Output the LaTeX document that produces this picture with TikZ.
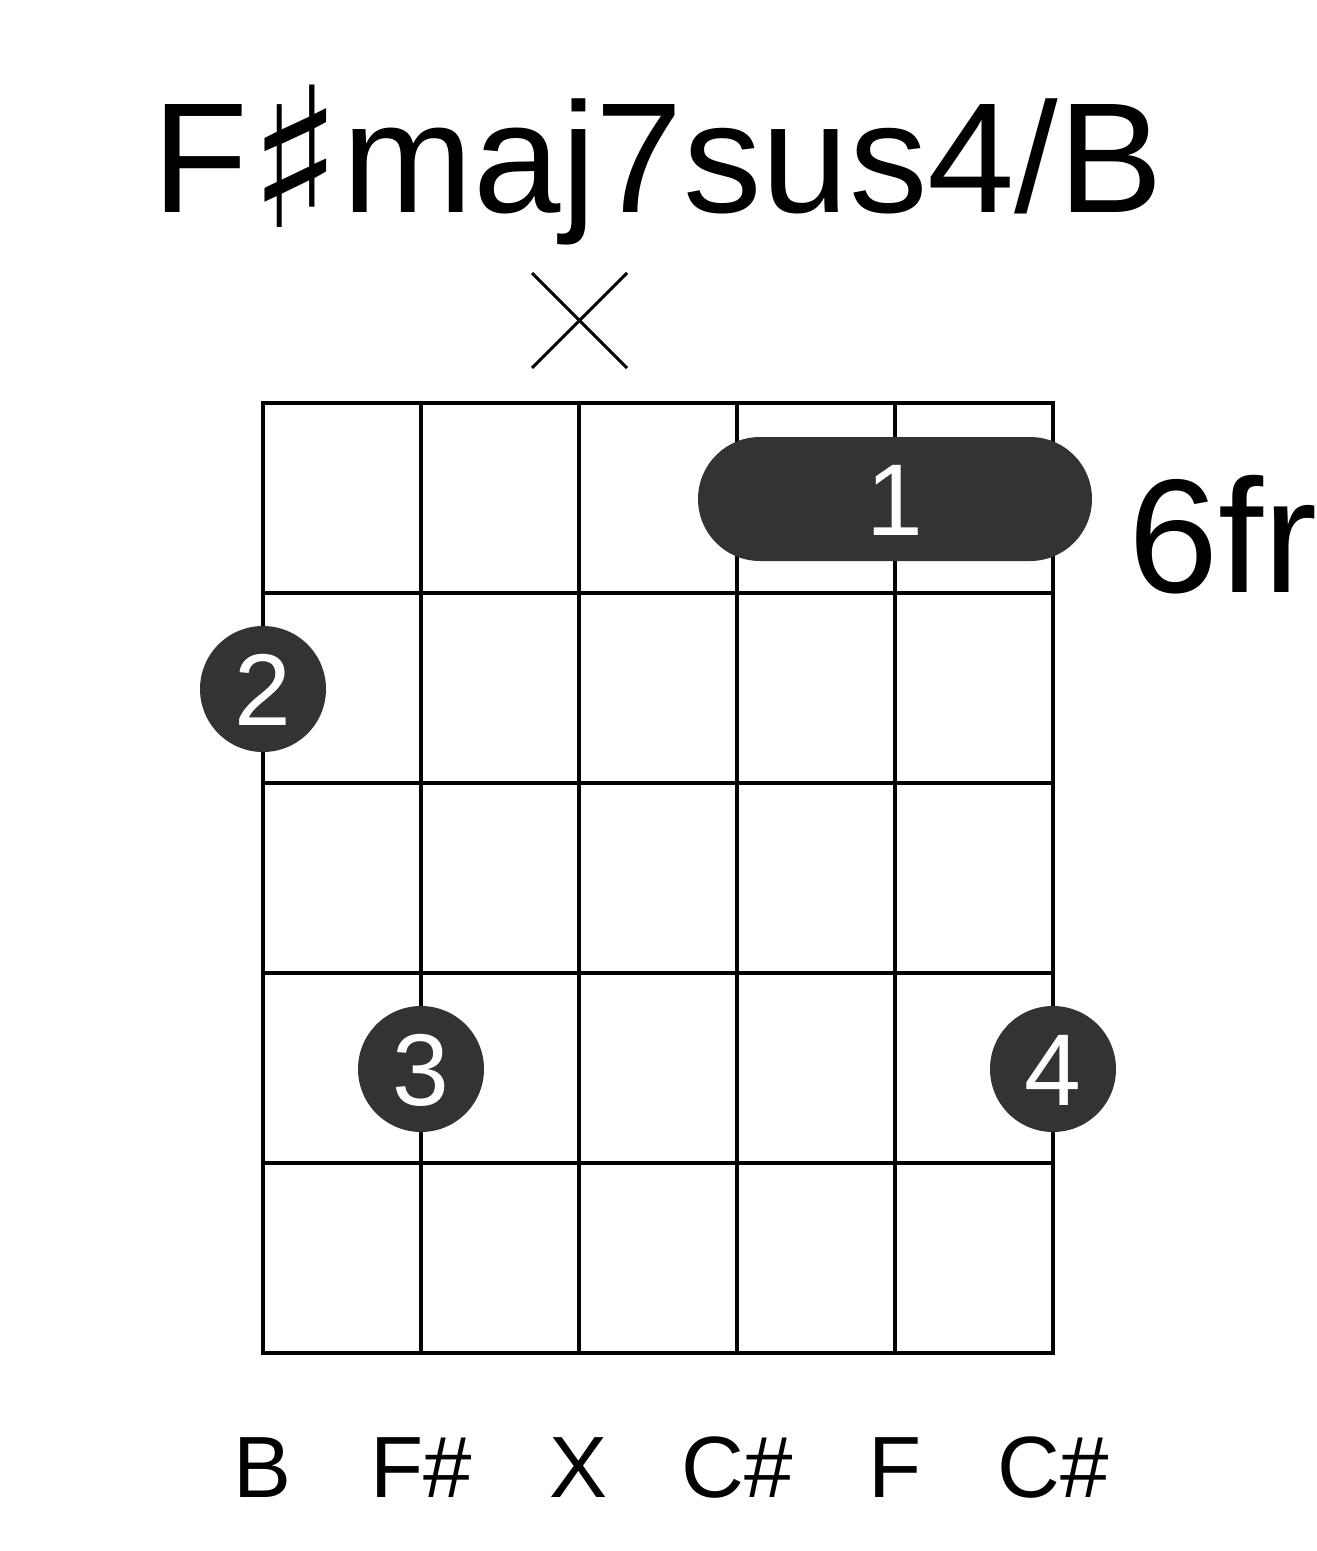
\documentclass[tikz,border=0pt]{standalone}
\usepackage{fontspec}
\setmainfont{Liberation Sans}
\newfontfamily\symfont{DejaVu Sans}
\definecolor{dotgray}{HTML}{333333}
\begin{document}
\begin{tikzpicture}[x=1bp,y=-1bp,
  gridline/.style={line width=4.5bp,black},
  fingerdot/.style={circle,fill=dotgray,minimum size=126bp,inner sep=0pt},
  fingernum/.style={text=white,anchor=base,font=\fontsize{102bp}{102bp}\selectfont,inner sep=0pt},
  notelabel/.style={anchor=base,font=\fontsize{87bp}{87bp}\selectfont,inner sep=0pt},
  mutemark/.style={line width=3bp,black}]
\useasboundingbox (0,0) rectangle (1317,1551);
% title
\node[anchor=base,inner sep=0pt,font=\fontsize{157bp}{157bp}\selectfont] (title) at (658,212) {F\raisebox{-15bp}{\symfont\fontsize{195bp}{195bp}\selectfont ♯}maj7sus4/B};
% grid
\foreach \x in {263,421,579,737,895,1053} \draw[gridline] (\x,403) -- (\x,1353);
\foreach \y in {403,593,783,973,1163,1353} \draw[gridline] (261,\y) -- (1055,\y);
% mute mark
\coordinate (m1) at (532,273); \coordinate (m2) at (627,368);
\coordinate (m3) at (627,273); \coordinate (m4) at (532,368);
\draw[mutemark] (m1) -- (m2);
\draw[mutemark] (m3) -- (m4);
% barre
\fill[dotgray,rounded corners=62bp] (698,437) rectangle (1092,561);
\node[fingernum] (f1) at (895,535) {1};
% dots
\node[fingerdot] (d2) at (263,689) {};
\node[fingernum] (f2) at (263,725) {2};
\node[fingerdot] (d3) at (421,1069) {};
\node[fingernum] (f3) at (421,1105) {3};
\node[fingerdot] (d4) at (1053,1069) {};
\node[fingernum] (f4) at (1053,1105) {4};
% fret label
\node[anchor=base west,inner sep=0pt,font=\fontsize{162bp}{162bp}\selectfont] (fr) at (1128,592) {6fr};
% note labels
\node[notelabel] (n1) at (263,1497) {B};
\node[notelabel] (n2) at (421,1497) {F\#};
\node[notelabel] (n3) at (579,1497) {X};
\node[notelabel] (n4) at (737,1497) {C\#};
\node[notelabel] (n5) at (895,1497) {F};
\node[notelabel] (n6) at (1053,1497) {C\#};
\end{tikzpicture}
\end{document}
